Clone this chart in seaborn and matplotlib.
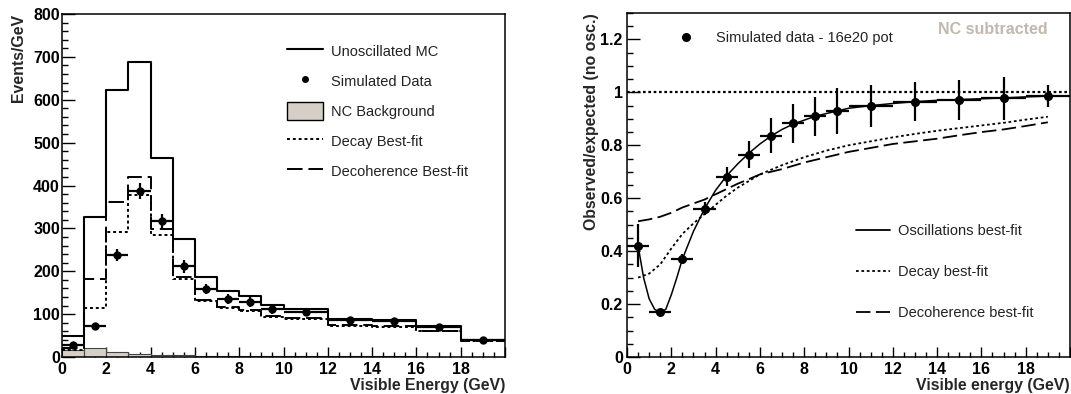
import numpy as np
import pandas as pd
import matplotlib
matplotlib.use("Agg")
import matplotlib.pyplot as plt
from matplotlib.ticker import MultipleLocator, FuncFormatter
from matplotlib.lines import Line2D
from matplotlib.patches import Patch
import seaborn as sns

# ---------------- data: left panel (Events/GeV) ----------------
bin_edges = [0, 1, 2, 3, 4, 5, 6, 7, 8, 9, 10, 12, 14, 16, 18, 20]
unosc_mc = [48, 326, 622, 687, 464, 276, 187, 154, 143, 121, 111, 88, 86, 72, 40]
decoherence_fit = [22, 182, 362, 419, 298, 186, 133, 117, 110, 95, 91, 75, 73, 61, 37]
decay_fit = [17, 114, 292, 378, 284, 183, 131, 114, 107, 93, 89, 73, 71, 60, 37]
nc_background = [16, 21, 12, 7, 5, 4, 3, 3, 2, 2, 2, 1.5, 1.5, 1, 1]
sim_data = [29, 73, 238, 387, 318, 212, 158, 136, 128, 111, 105, 86, 84, 70, 39]
sim_data_err = [4, 6, 15, 19, 16, 15, 12, 12, 11, 10, 7, 7, 6, 6, 4]

# ---------------- data: right panel (ratio) ----------------
ratio = [0.421, 0.170, 0.371, 0.560, 0.682, 0.765, 0.837, 0.883, 0.909, 0.931,
         0.949, 0.965, 0.971, 0.977, 0.986]
ratio_err = [0.08, 0.012, 0.02, 0.025, 0.035, 0.05, 0.065, 0.074, 0.075, 0.087,
             0.08, 0.075, 0.074, 0.082, 0.043]

osc_x = [0.5, 0.75, 1.0, 1.25, 1.5, 1.75, 2.0, 2.25, 2.5, 3.0, 3.5, 4.0, 4.5, 5.0,
         5.5, 6.0, 6.5, 7.0, 7.5, 8.0, 8.5, 9.0, 9.5, 10, 11, 12, 13, 14, 15, 16,
         17, 18, 19]
osc_y = [0.42, 0.30, 0.22, 0.18, 0.168, 0.18, 0.235, 0.30, 0.37, 0.475, 0.56, 0.63,
         0.685, 0.73, 0.77, 0.805, 0.835, 0.86, 0.88, 0.895, 0.91, 0.92, 0.93, 0.94,
         0.95, 0.958, 0.965, 0.97, 0.973, 0.976, 0.979, 0.983, 0.986]

fit_x = [0.5, 1, 1.5, 2, 2.5, 3, 3.5, 4, 4.5, 5, 5.5, 6, 7, 8, 9, 10, 11, 12, 13,
         14, 15, 16, 17, 18, 19]
decay_y = [0.30, 0.315, 0.35, 0.41, 0.465, 0.505, 0.54, 0.575, 0.61, 0.64, 0.665,
           0.69, 0.725, 0.755, 0.78, 0.80, 0.815, 0.83, 0.843, 0.855, 0.865, 0.875,
           0.885, 0.897, 0.908]
decoh_y = [0.513, 0.52, 0.53, 0.545, 0.565, 0.58, 0.595, 0.615, 0.635, 0.655, 0.672,
           0.69, 0.71, 0.735, 0.755, 0.775, 0.79, 0.805, 0.815, 0.825, 0.838, 0.85,
           0.86, 0.873, 0.887]

edges = np.array(bin_edges, dtype=float)
centers = (edges[:-1] + edges[1:]) / 2
half_w = (edges[1:] - edges[:-1]) / 2

# ---------------- style ----------------
sns.set_theme(style="white")
plt.rcParams['font.family'] = ['Liberation Sans', 'DejaVu Sans']
plt.rcParams['axes.linewidth'] = 1.1
plt.rcParams['axes.edgecolor'] = 'black'

DOT = (0, (1.5, 1.5))
DASH = (0, (8, 3))
TICK_FS = 11.5
LAB_FS = 11.4
LEG_FS = 10.5

W, H = 1071, 394
fig = plt.figure(figsize=(W / 100, H / 100), dpi=100)
ax1 = fig.add_axes([62 / W, 37 / H, 443 / W, 343 / H])
ax2 = fig.add_axes([627 / W, 37 / H, 443 / W, 344 / H])

# ---------------- left panel ----------------
sns.histplot(x=centers, weights=nc_background, bins=bin_edges, element='bars',
             fill=True, color='#d6cfc8', alpha=1, edgecolor='#444444',
             linewidth=0.8, ax=ax1)
sns.histplot(x=centers, weights=unosc_mc, bins=bin_edges, element='step',
             fill=False, color='black', linewidth=1.5, ax=ax1)
sns.histplot(x=centers, weights=decay_fit, bins=bin_edges, element='step',
             fill=False, color='black', linewidth=1.4, linestyle=DOT, ax=ax1)
sns.histplot(x=centers, weights=decoherence_fit, bins=bin_edges, element='step',
             fill=False, color='black', linewidth=1.4, linestyle=DASH, ax=ax1)
ax1.errorbar(centers, sim_data, xerr=half_w, yerr=sim_data_err, fmt='o',
             color='black', ms=5, elinewidth=1.6, capsize=0)

ax1.set_xlim(0, 20)
ax1.set_ylim(0, 800)
ax1.xaxis.set_major_locator(MultipleLocator(2))
ax1.xaxis.set_minor_locator(MultipleLocator(0.5))
ax1.yaxis.set_major_locator(MultipleLocator(100))
ax1.yaxis.set_minor_locator(MultipleLocator(20))
ax1.xaxis.set_major_formatter(FuncFormatter(lambda v, p: '' if v >= 19.9 else '%g' % v))
ax1.set_xlabel('Visible Energy (GeV)', loc='right', fontsize=LAB_FS,
               fontweight='bold', labelpad=1)
ax1.set_ylabel('Events/GeV', loc='top', fontsize=LAB_FS, fontweight='bold',
               labelpad=5)

leg1_handles = [
    Line2D([], [], color='black', lw=1.5),
    Line2D([], [], color='black', marker='o', ls='none', ms=4),
    Patch(facecolor='#d6cfc8', edgecolor='black', lw=1),
    Line2D([], [], color='black', lw=1.4, ls=DOT),
    Line2D([], [], color='black', lw=1.4, ls=DASH),
]
leg1_labels = ['Unoscillated MC', 'Simulated Data', 'NC Background',
               'Decay Best-fit', 'Decoherence Best-fit']
leg1 = ax1.legend(leg1_handles, leg1_labels, loc='center left',
                  bbox_to_anchor=((287 - 62) / 443, (357 - 111) / 343),
                  frameon=False, fontsize=LEG_FS, handlelength=2.5,
                  handleheight=1.45, handletextpad=0.55, labelspacing=0.88,
                  borderpad=0, borderaxespad=0, numpoints=1)

# ---------------- right panel ----------------
ax2.axhline(1.0, color='black', lw=1.6, ls=(0, (1.2, 1.2)))
sns.lineplot(x=osc_x, y=osc_y, color='black', linewidth=1.1, ax=ax2)
sns.lineplot(x=fit_x, y=decay_y, color='black', linewidth=1.3, linestyle=DOT, ax=ax2)
sns.lineplot(x=fit_x, y=decoh_y, color='black', linewidth=1.3, linestyle=DASH, ax=ax2)
ax2.errorbar(centers, ratio, xerr=half_w, yerr=ratio_err, fmt='o',
             color='black', ms=5.5, elinewidth=1.6, capsize=0)

ax2.set_xlim(0, 20)
ax2.set_ylim(0, 1.3)
ax2.xaxis.set_major_locator(MultipleLocator(2))
ax2.xaxis.set_minor_locator(MultipleLocator(0.5))
ax2.yaxis.set_major_locator(MultipleLocator(0.2))
ax2.yaxis.set_minor_locator(MultipleLocator(0.05))
ax2.xaxis.set_major_formatter(FuncFormatter(lambda v, p: '' if v >= 19.9 else '%g' % v))
ax2.yaxis.set_major_formatter(FuncFormatter(lambda v, p: '%g' % round(v, 2)))
ax2.set_xlabel('Visible energy (GeV)', loc='right', fontsize=LAB_FS,
               fontweight='bold', labelpad=1)
ax2.set_ylabel('Observed/expected (no osc.)', loc='top', fontsize=LAB_FS,
               fontweight='bold', labelpad=1)

leg2a = ax2.legend([Line2D([], [], color='black', marker='o', ls='none', ms=5.5)],
                   ['Simulated data - 16e20 pot'], loc='center left',
                   bbox_to_anchor=((671 - 627) / 443, (357 - 38) / 344),
                   frameon=False, fontsize=LEG_FS, handlelength=2.0,
                   handletextpad=1.1, borderpad=0, borderaxespad=0, numpoints=1)
ax2.add_artist(leg2a)
leg2b = ax2.legend([Line2D([], [], color='black', lw=1.3),
                    Line2D([], [], color='black', lw=1.3, ls=DOT),
                    Line2D([], [], color='black', lw=1.3, ls=DASH)],
                   ['Oscillations best-fit', 'Decay best-fit', 'Decoherence best-fit'],
                   loc='center left',
                   bbox_to_anchor=((856 - 627) / 443, (357 - 272) / 344),
                   frameon=False, fontsize=LEG_FS, handlelength=2.35,
                   handletextpad=0.5, labelspacing=1.85, borderpad=0,
                   borderaxespad=0)
ax2.text((1048 - 627) / 443, (357 - 29) / 344, 'NC subtracted', transform=ax2.transAxes,
         ha='right', va='center', fontsize=11.5, fontweight='bold', color='#c2b8ad')

for ax in (ax1, ax2):
    for s in ax.spines.values():
        s.set_visible(True)
        s.set_color('black')
        s.set_linewidth(1.1)
    ax.tick_params(axis='both', which='both', direction='in', colors='black',
                   top=False, right=False, bottom=True, left=True, width=1.0)
    ax.tick_params(axis='x', which='major', length=7.2, pad=3.5,
                   labelsize=TICK_FS)
    ax.tick_params(axis='x', which='minor', length=3.6)
    ax.tick_params(axis='y', which='major', length=9.6, pad=1.5,
                   labelsize=TICK_FS)
    ax.tick_params(axis='y', which='minor', length=4.3)
    for lbl in ax.get_xticklabels() + ax.get_yticklabels():
        lbl.set_fontweight('bold')
    for t in ax.get_legend().get_texts() if ax.get_legend() else []:
        t.set_color('#222222')
for t in leg2a.get_texts():
    t.set_color('#222222')
ax2.tick_params(axis='y', which='major', pad=3)

fig.savefig('out.png', dpi=100, facecolor='white')
